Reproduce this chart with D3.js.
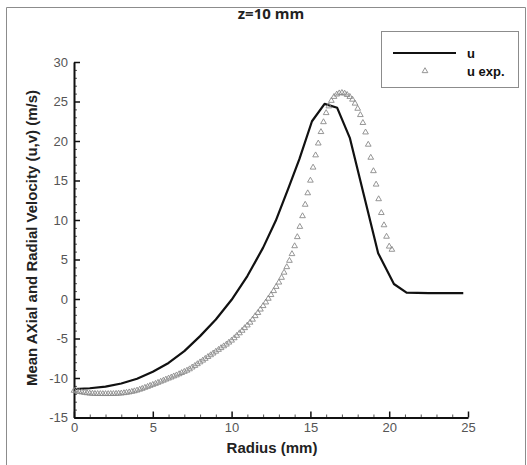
<!DOCTYPE html>
<html>
<head>
<meta charset="utf-8">
<script src="https://cdn.jsdelivr.net/npm/d3@7"></script>
<style>
    body { margin: 0; background: #fff; }
    svg { display: block; }
</style>
</head>
<body>
<div id="chart"></div>
<script>

// simulated axial velocity (solid line)
var simRadius = [0, 1, 2, 3, 4, 5, 6, 7, 8, 9, 10, 11, 12, 12.8, 13.6, 14.3, 15.1, 15.9, 16.7, 17.5, 18.4, 19.3, 20.3, 21.1, 22.5, 24.7];
var simU = [-11.4, -11.3, -11.1, -10.7, -10.1, -9.2, -8.1, -6.6, -4.7, -2.6, -0.1, 2.9, 6.5, 9.9, 14.0, 17.7, 22.5, 24.7, 24.2, 20.4, 13.1, 5.8, 1.9, 0.8, 0.75, 0.75];

// experimental axial velocity (triangles)
var expRadius = [
    0.00, 0.17, 0.33, 0.50, 0.67, 0.83, 1.00, 1.17, 1.33, 1.50, 1.67, 1.83, 2.00, 2.17, 2.33, 2.50, 2.67, 2.83, 3.00, 3.17,
    3.33, 3.50, 3.67, 3.83, 4.00, 4.17, 4.33, 4.50, 4.67, 4.83, 5.00, 5.17, 5.33, 5.50, 5.67, 5.83, 6.00, 6.17, 6.33, 6.50,
    6.67, 6.83, 7.00, 7.17, 7.33, 7.50, 7.67, 7.83, 8.00, 8.17, 8.33, 8.50, 8.67, 8.83, 9.00, 9.17, 9.33, 9.50, 9.67, 9.83,
    10.00, 10.17, 10.33, 10.50, 10.67, 10.83, 11.00, 11.17, 11.33, 11.50, 11.67, 11.83, 12.00, 12.17, 12.33, 12.50, 12.67, 12.83, 13.00, 13.17,
    13.33, 13.50, 13.67, 13.83, 14.00, 14.17, 14.33, 14.50, 14.67, 14.83, 15.00, 15.17, 15.33, 15.50, 15.67, 15.83, 16.00, 16.17, 16.33, 16.50,
    16.67, 16.83, 17.00, 17.17, 17.33, 17.50, 17.67, 17.83, 18.00, 18.17, 18.33, 18.50, 18.67, 18.83, 19.00, 19.17, 19.33, 19.50, 19.67, 19.83,
    20.00, 20.17
];
var expU = [
    -11.60, -11.68, -11.75, -11.80, -11.86, -11.91, -11.95, -11.97, -11.99, -12.00, -12.00, -12.01, -12.01, -12.01, -12.00, -12.00, -11.98, -11.96, -11.94, -11.90,
    -11.85, -11.80, -11.73, -11.66, -11.57, -11.46, -11.35, -11.22, -11.10, -10.97, -10.85, -10.72, -10.59, -10.45, -10.32, -10.18, -10.05, -9.92, -9.78, -9.65,
    -9.50, -9.35, -9.20, -9.05, -8.88, -8.65, -8.45, -8.23, -8.00, -7.78, -7.55, -7.32, -7.10, -6.88, -6.65, -6.42, -6.20, -5.97, -5.75, -5.50,
    -5.25, -4.95, -4.64, -4.32, -4.00, -3.67, -3.33, -2.98, -2.60, -2.15, -1.75, -1.32, -0.88, -0.42, 0.05, 0.52, 1.02, 1.55, 2.10, 2.70,
    3.35, 4.05, 4.85, 5.70, 6.70, 7.85, 9.15, 10.50, 11.95, 13.40, 15.00, 16.65, 18.20, 19.70, 21.15, 22.40, 23.55, 24.40, 25.10, 25.60,
    25.90, 26.05, 26.10, 26.02, 25.85, 25.60, 25.25, 24.75, 24.10, 23.30, 22.30, 21.10, 19.55, 17.90, 16.20, 14.50, 12.65, 10.90, 9.35, 7.90,
    6.65, 6.25
];

// tick values
var xMajorTicks = [0, 5, 10, 15, 20, 25];
var yMajorTicks = [-15, -10, -5, 0, 5, 10, 15, 20, 25, 30];
var legendLabels = ["u", "u exp."];

var width = 527;
var height = 465;
var margin = { top: 62, right: 59, bottom: 47.5, left: 74 };

var svg = d3.select("#chart").append("svg")
    .attr("width", width)
    .attr("height", height);

svg.append("rect")
    .attr("width", width)
    .attr("height", height)
    .attr("fill", "#fff");

// outer frame of the picture
svg.append("path")
    .attr("d", "M6.5," + height + "V7.5H525.5V" + height)
    .attr("fill", "none")
    .attr("stroke", "#8c8c8c")
    .attr("stroke-width", 1);

var x = d3.scaleLinear().domain([0, 25]).range([margin.left, width - margin.right]);
var y = d3.scaleLinear().domain([-15, 30]).range([height - margin.bottom, margin.top]);

var xMinor = d3.range(0, 26).filter(function (d) { return d % 5 != 0; });
var yMinor = d3.range(-15, 31).filter(function (d) { return d % 5 != 0; });

// plain hyphen for negatives, like the original
var plain = function (d) { return String(d); };

//minor ticks first so the axis line sits on top
svg.append("g")
    .attr("transform", "translate(0," + y(-15) + ")")
    .call(d3.axisBottom(x).tickValues(xMinor).tickSize(-3).tickFormat(""))
    .call(function (g) { g.select(".domain").remove(); })
    .selectAll("line").attr("stroke", "#555");

svg.append("g")
    .attr("transform", "translate(" + x(0) + ",0)")
    .call(d3.axisLeft(y).tickValues(yMinor).tickSize(-3).tickFormat(""))
    .call(function (g) { g.select(".domain").remove(); })
    .selectAll("line").attr("stroke", "#555");

var xAxis = svg.append("g")
    .attr("transform", "translate(0," + y(-15) + ")")
    .call(d3.axisBottom(x).tickValues(xMajorTicks).tickFormat(plain).tickSize(-6).tickSizeOuter(0).tickPadding(5));

var yAxis = svg.append("g")
    .attr("transform", "translate(" + x(0) + ",0)")
    .call(d3.axisLeft(y).tickValues(yMajorTicks).tickFormat(plain).tickSize(-6).tickSizeOuter(0).tickPadding(6));

[xAxis, yAxis].forEach(function (g) {
    g.select(".domain").attr("stroke", "#111").attr("stroke-width", 2);
    g.selectAll(".tick line").attr("stroke", "#111").attr("stroke-width", 1.5);
    g.selectAll(".tick text")
        .attr("fill", "#555")
        .style("font-family", "'Liberation Sans', Arial, sans-serif")
        .style("font-size", "13px");
});

//solid simulation line
var simData = simRadius.map(function (r, i) { return { r: r, u: simU[i] }; });
var line = d3.line()
    .x(function (d) { return x(d.r); })
    .y(function (d) { return y(d.u); });

svg.append("path")
    .datum(simData)
    .attr("d", line)
    .attr("fill", "none")
    .attr("stroke", "#111")
    .attr("stroke-width", 2.2)
    .attr("stroke-linejoin", "round");

//experimental triangles
var expData = expRadius.map(function (r, i) { return { r: r, u: expU[i] }; });
var tri = d3.symbol().type(d3.symbolTriangle).size(14);

svg.selectAll("path.exp")
    .data(expData)
    .enter()
    .append("path")
    .attr("class", "exp")
    .attr("d", tri)
    .attr("transform", function (d) { return "translate(" + x(d.r) + "," + y(d.u) + ")"; })
    .attr("fill", "none")
    .attr("stroke", "#8a8a8a")
    .attr("stroke-width", 0.9);

//title and axis labels
svg.append("text")
    .attr("x", 271)
    .attr("y", 19)
    .attr("text-anchor", "middle")
    .style("font-family", "'Open Sans', sans-serif")
    .style("font-weight", "bold")
    .style("font-size", "15px")
    .attr("fill", "#222")
    .text("z=10 mm");

svg.append("text")
    .attr("x", 272)
    .attr("y", 453)
    .attr("text-anchor", "middle")
    .style("font-family", "'Liberation Sans', Arial, sans-serif")
    .style("font-weight", "bold")
    .style("font-size", "15px")
    .attr("fill", "#222")
    .text("Radius (mm)");

svg.append("text")
    .attr("transform", "translate(37," + 238 + ") rotate(-90)")
    .attr("text-anchor", "middle")
    .style("font-family", "'Liberation Sans', Arial, sans-serif")
    .style("font-weight", "bold")
    .style("font-size", "15px")
    .attr("fill", "#222")
    .text("Mean AXial and Radial Velocity (u,v) (m/s)");

//legend
var legend = svg.append("g");

legend.append("rect")
    .attr("x", 381.5)
    .attr("y", 31.5)
    .attr("width", 137)
    .attr("height", 56)
    .attr("fill", "#fff")
    .attr("stroke", "#8c8c8c")
    .attr("stroke-width", 1);

legend.append("line")
    .attr("x1", 393)
    .attr("x2", 456)
    .attr("y1", 53)
    .attr("y2", 53)
    .attr("stroke", "#111")
    .attr("stroke-width", 2.2);

legend.append("path")
    .attr("d", tri)
    .attr("transform", "translate(425,71)")
    .attr("fill", "none")
    .attr("stroke", "#8a8a8a")
    .attr("stroke-width", 0.9);

legend.selectAll("text")
    .data(legendLabels)
    .enter()
    .append("text")
    .attr("x", 467)
    .attr("y", function (d, i) { return 58 + i * 18; })
    .style("font-family", "'Liberation Sans', Arial, sans-serif")
    .style("font-weight", "bold")
    .style("font-size", "13px")
    .attr("fill", "#111")
    .text(function (d) { return d; });

</script>
</body>
</html>
